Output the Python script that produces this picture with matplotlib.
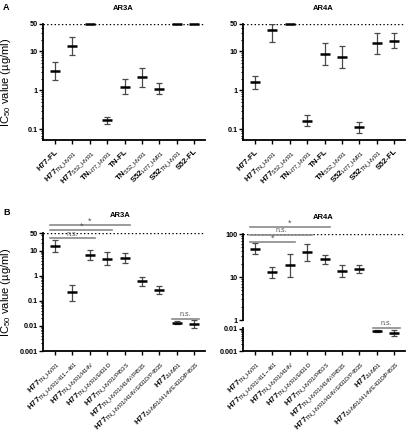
import numpy as np
import matplotlib.pyplot as plt

plt.rcParams['font.family'] = ['Liberation Sans', 'DejaVu Sans']
plt.rcParams['mathtext.fontset'] = 'custom'
plt.rcParams['mathtext.rm'] = 'Liberation Sans'
plt.rcParams['mathtext.it'] = 'Liberation Sans:italic'
plt.rcParams['mathtext.bf'] = 'Liberation Sans:bold'

nan = np.nan

# panel A data (mean, lower, upper); nan = no error bar (value at limit)
a_labels = [('H77-FL', ''), ('H77', 'TN_HVR1'), ('H77', 'S52_HVR1'),
            ('TN', 'H77_HVR1'), ('TN-FL', ''), ('TN', 'S52_HVR1'),
            ('S52', 'H77_HVR1'), ('S52', 'TN_HVR1'), ('S52-FL', '')]
a_ar3a_mean = [3.1, 13.7, 50, 0.175, 1.22, 2.2, 1.1, 50, 50]
a_ar3a_low = [1.8, 8.0, nan, 0.14, 0.82, 1.22, 0.82, nan, nan]
a_ar3a_high = [5.3, 23, nan, 0.213, 1.9, 3.8, 1.55, nan, nan]
a_ar4a_mean = [1.64, 35.7, 50, 0.168, 8.5, 7.3, 0.113, 16, 18.9]
a_ar4a_low = [1.1, 17.8, nan, 0.125, 4.4, 3.8, 0.079, 8.4, 12]
a_ar4a_high = [2.4, 50, nan, 0.235, 16, 13.7, 0.158, 30, 29]

# panel B data
b_labels = [('H77', 'TN_HVR1'), ('H77', 'TN_HVR1/411-461'), ('H77', 'TN_HVR1/I414V'),
            ('H77', 'TN_HVR1/E431D'), ('H77', 'TN_HVR1/P453S'),
            ('H77', 'TN_HVR1/I414V/P453S'), ('H77', 'TN_HVR1/I414V/E431D/P453S'),
            ('H77', r'\Delta HVR1'), ('H77', r'\Delta HVR1/I414V/E431D/P453S')]
b_ar3a_mean = [15, 0.22, 6.9, 4.8, 5.1, 0.59, 0.275, 0.0135, 0.012]
b_ar3a_low = [8.8, 0.1, 4.4, 2.6, 3.2, 0.4, 0.19, 0.012, 0.008]
b_ar3a_high = [26, 0.44, 11, 9.1, 8.1, 0.88, 0.4, 0.015, 0.017]
b_ar4a_mean = [44, 12.8, 19, 37.5, 25.7, 13.8, 15.3, 0.0078, 0.0065]
b_ar4a_low = [34, 9.3, 10.2, 23.5, 19.7, 9.8, 12.2, 0.0072, 0.0046]
b_ar4a_high = [61, 17.4, 34, 57, 32.6, 19, 19, 0.0085, 0.0085]

# significance bars: (last group, y, text)
b_ar3a_sig = [(4, 105, '*'), (3, 66, '*'), (2, 31, 'n.s.')]
b_ar4a_sig = [(4, 143, '*'), (3, 95, 'n.s.'), (2, 66, '*')]

W, H = 407, 440
fig = plt.figure(figsize=(W / 100, H / 100), dpi=100)


def px_box(x0, y0, x1, y1):
    return [x0 / W, 1 - y1 / H, (x1 - x0) / W, (y1 - y0) / H]


def make_label(main, sub):
    if sub == '':
        return main
    sub = sub.replace('_', r'\_')
    return main + r'$_{\mathrm{' + sub + '}}$'


def style_axes(ax, ylim, ticks, ticklabels):
    ax.set_yscale('log')
    ax.set_ylim(ylim)
    ax.set_xlim(-0.69, 8.62)
    ax.spines['top'].set_visible(False)
    ax.spines['right'].set_visible(False)
    ax.spines['left'].set_linewidth(1.3)
    ax.spines['bottom'].set_linewidth(1.3)
    ax.set_yticks(ticks)
    ax.set_yticklabels(ticklabels, fontsize=5.2, fontweight='bold')
    ax.tick_params(axis='y', which='major', length=3, width=1, pad=1)
    ax.tick_params(axis='y', which='minor', length=1.8, width=0.7)
    ax.patch.set_alpha(0)


def draw_points(ax, means, lows, highs, lo_lim=0, hi_lim=1e9):
    for i in range(len(means)):
        if means[i] < lo_lim or means[i] > hi_lim:
            continue
        if not np.isnan(lows[i]):
            ax.errorbar(i, means[i], yerr=[[means[i] - lows[i]], [highs[i] - means[i]]],
                        fmt='none', ecolor='#4a4a4a', elinewidth=0.9, capsize=2, capthick=0.9)
        ax.plot(i, means[i], ls='none', marker='_', ms=7, mew=1.8, color='black',
                clip_on=False, zorder=5)


def set_xlabels(ax, labels):
    ax.set_xticks(np.arange(len(labels)))
    ax.set_xticklabels([make_label(m, s) for m, s in labels], rotation=45, ha='right',
                       rotation_mode='anchor', fontsize=5.7, fontweight='bold')
    ax.tick_params(axis='x', length=3, width=1, pad=3)


def sig_bar(ax, x1, y, text):
    ax.plot([-0.3, x1 + 0.3], [y, y], color='#8a8a8a', lw=1.2, clip_on=False)
    if text == '*':
        ax.text(x1 / 2, y * 0.97, text, ha='center', va='bottom',
                fontsize=6.5, color='#555555', clip_on=False)
    else:
        ax.text(x1 / 2, y * 1.04, text, ha='center', va='bottom',
                fontsize=5, color='#555555', clip_on=False)


# ---- panel A ----
ax1 = fig.add_axes(px_box(43, 24, 205, 140))
style_axes(ax1, (0.0537, 50), [0.1, 1, 10, 50], ['0.1', '1', '10', '50'])
ax1.axhline(50, color='black', ls=':', lw=1)
draw_points(ax1, a_ar3a_mean, a_ar3a_low, a_ar3a_high)
set_xlabels(ax1, a_labels)
ax1.set_ylabel(r'IC$_{50}$ value (µg/ml)', fontsize=8)
ax1.yaxis.set_label_coords(-0.185, 0.5)

ax2 = fig.add_axes(px_box(243, 24, 405, 140))
style_axes(ax2, (0.0537, 50), [0.1, 1, 10, 50], ['0.1', '1', '10', '50'])
ax2.axhline(50, color='black', ls=':', lw=1)
draw_points(ax2, a_ar4a_mean, a_ar4a_low, a_ar4a_high)
set_xlabels(ax2, a_labels)

# ---- panel B, AR3A ----
ax3 = fig.add_axes(px_box(43, 233, 205, 351))
style_axes(ax3, (0.001, 50), [0.001, 0.01, 0.1, 1, 10, 50],
           ['0.001', '0.01', '0.1', '1', '10', '50'])
ax3.axhline(50, color='black', ls=':', lw=1)
draw_points(ax3, b_ar3a_mean, b_ar3a_low, b_ar3a_high)
set_xlabels(ax3, b_labels)
ax3.set_ylabel(r'IC$_{50}$ value (µg/ml)', fontsize=8)
ax3.yaxis.set_label_coords(-0.185, 0.5)
for x1, y, t in b_ar3a_sig:
    sig_bar(ax3, x1, y, t)
ax3.plot([6.75, 8.3], [0.0184, 0.0184], color='#8a8a8a', lw=1.2)
ax3.text(7.5, 0.0184 * 1.08, 'n.s.', ha='center', va='bottom', fontsize=5, color='#555555')

# ---- panel B, AR4A (broken axis) ----
ax4 = fig.add_axes(px_box(243, 234, 405, 320))
style_axes(ax4, (1, 100), [1, 10, 100], ['1', '10', '100'])
ax4.axhline(100, color='black', ls=':', lw=1)
draw_points(ax4, b_ar4a_mean, b_ar4a_low, b_ar4a_high, lo_lim=1)
ax4.set_ylim(1, 100)
ax4.spines['bottom'].set_visible(False)
ax4.tick_params(axis='x', bottom=False, labelbottom=False)
for x1, y, t in b_ar4a_sig:
    sig_bar(ax4, x1, y, t)

ax5 = fig.add_axes(px_box(243, 328, 405, 351))
style_axes(ax5, (0.001, 0.011), [0.001, 0.01], ['0.001', '0.01'])
draw_points(ax5, b_ar4a_mean, b_ar4a_low, b_ar4a_high, hi_lim=0.011)
ax5.set_ylim(0.001, 0.011)
set_xlabels(ax5, b_labels)
ax5.plot([6.8, 8.35], [0.0114, 0.0114], color='#8a8a8a', lw=1.2, clip_on=False)
ax5.text(7.575, 0.0124, 'n.s.', ha='center', va='bottom', fontsize=5, color='#555555',
         clip_on=False)

# titles and panel letters
fig.text(123 / W, 1 - 9 / H, 'AR3A', ha='center', va='center', fontsize=5.5, fontweight='bold')
fig.text(323 / W, 1 - 9 / H, 'AR4A', ha='center', va='center', fontsize=5.5, fontweight='bold')
fig.text(120 / W, 1 - 215 / H, 'AR3A', ha='center', va='center', fontsize=5.5, fontweight='bold')
fig.text(323 / W, 1 - 217 / H, 'AR4A', ha='center', va='center', fontsize=5.5, fontweight='bold')
fig.text(3 / W, 1 - 8 / H, 'A', ha='left', va='center', fontsize=6.5, fontweight='bold')
fig.text(3 / W, 1 - 212 / H, 'B', ha='left', va='center', fontsize=6.5, fontweight='bold')

fig.savefig('out.png', dpi=100)
